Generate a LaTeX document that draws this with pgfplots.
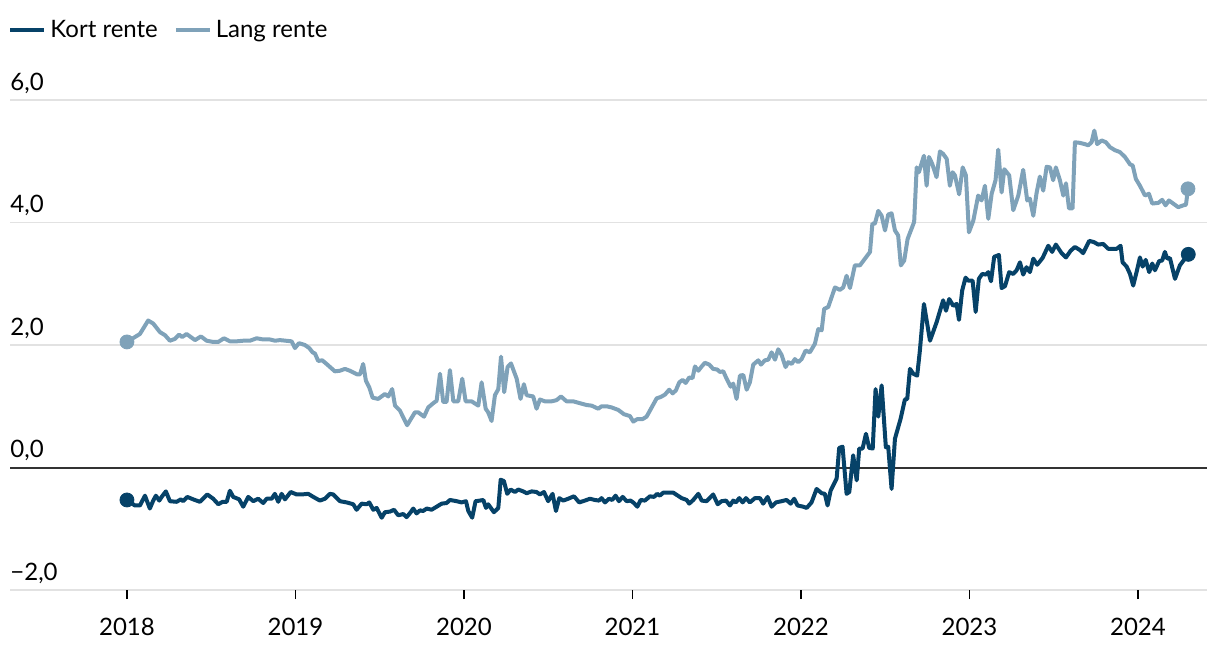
\documentclass[border=0pt]{standalone}
\usepackage{pgfplots}
\pgfplotsset{compat=1.18}
\usepackage{fontspec}
\setmainfont{Lato}
\definecolor{kort}{HTML}{064268}
\definecolor{lang}{HTML}{7FA2B9}
\definecolor{gridc}{HTML}{E2E2E2}
\begin{document}
\begin{tikzpicture}
\path[use as bounding box] (-5pt,-29pt) rectangle (605pt,295pt);
\begin{axis}[
  at={(0,0)}, anchor=south west,
  scale only axis, width=598.5pt, height=245pt,
  xmin=2017.306, xmax=2024.410, ymin=-2, ymax=6,
  axis line style={draw=none},
  xtick={2018,2019,2020,2021,2022,2023,2024},
  xticklabels={2018,2019,2020,2021,2022,2023,2024},
  ytick={-2,0,2,4,6},
  yticklabels={{−2,0},{0,0},{2,0},{4,0},{6,0}},
  tick align=outside, major tick length=4.5pt,
  xtick pos=bottom, ytick pos=left,
  xtick style={black, line width=0.6pt},
  ytick style={draw=none},
  ymajorgrids, grid style={gridc, line width=0.9pt},
  extra y ticks={0}, extra y tick labels={},
  extra y tick style={grid style={black!80, line width=1pt}, ytick style={draw=none}},
  yticklabel style={anchor=south west, inner sep=0pt, xshift=4.5pt, yshift=3pt},
  xticklabel style={yshift=-6pt},
  tick label style={font=\fontsize{12}{14}\selectfont},
  legend style={draw=none, fill=none, inner sep=0pt, at={(0,1)}, anchor=west, yshift=35pt, xshift=-1pt,
    nodes={inner xsep=2pt},
    font=\fontsize{12}{14}\selectfont, /tikz/every even column/.append style={column sep=6pt}},
  legend columns=-1, legend cell align=left,
  legend image code/.code={\draw[#1, line width=2pt] (0pt,0pt) -- (17pt,0pt);},
]
\addplot[kort, line width=2pt, line join=round] coordinates {
(2018.000,-0.53) (2018.047,-0.62) (2018.077,-0.62) (2018.107,-0.46) (2018.136,-0.67) (2018.156,-0.54)
(2018.172,-0.46) (2018.192,-0.54) (2018.206,-0.48) (2018.231,-0.39) (2018.255,-0.55) (2018.295,-0.56)
(2018.320,-0.52) (2018.334,-0.55) (2018.358,-0.48) (2018.393,-0.52) (2018.433,-0.56) (2018.477,-0.44)
(2018.512,-0.51) (2018.542,-0.60) (2018.568,-0.56) (2018.592,-0.56) (2018.611,-0.38) (2018.631,-0.48)
(2018.666,-0.52) (2018.690,-0.64) (2018.720,-0.48) (2018.750,-0.55) (2018.779,-0.51) (2018.809,-0.58)
(2018.829,-0.51) (2018.859,-0.51) (2018.878,-0.43) (2018.898,-0.56) (2018.918,-0.43) (2018.938,-0.52)
(2018.972,-0.40) (2019.007,-0.44) (2019.037,-0.44) (2019.076,-0.43) (2019.106,-0.48) (2019.145,-0.54)
(2019.175,-0.51) (2019.205,-0.43) (2019.224,-0.44) (2019.264,-0.55) (2019.304,-0.57) (2019.343,-0.60)
(2019.363,-0.69) (2019.393,-0.59) (2019.423,-0.60) (2019.438,-0.57) (2019.462,-0.69) (2019.482,-0.66)
(2019.512,-0.82) (2019.531,-0.73) (2019.561,-0.72) (2019.585,-0.69) (2019.610,-0.78) (2019.640,-0.76)
(2019.660,-0.81) (2019.684,-0.73) (2019.699,-0.67) (2019.719,-0.75) (2019.739,-0.70) (2019.758,-0.71)
(2019.779,-0.67) (2019.808,-0.69) (2019.838,-0.64) (2019.868,-0.59) (2019.897,-0.58) (2019.917,-0.53)
(2019.957,-0.55) (2019.986,-0.57) (2020.012,-0.55) (2020.026,-0.71) (2020.049,-0.82) (2020.069,-0.55)
(2020.095,-0.54) (2020.115,-0.53) (2020.131,-0.66) (2020.144,-0.60) (2020.178,-0.73) (2020.204,-0.66)
(2020.218,-0.20) (2020.237,-0.22) (2020.257,-0.43) (2020.277,-0.36) (2020.303,-0.40) (2020.322,-0.36)
(2020.352,-0.39) (2020.372,-0.42) (2020.402,-0.39) (2020.431,-0.40) (2020.451,-0.44) (2020.475,-0.40)
(2020.500,-0.55) (2020.526,-0.43) (2020.546,-0.71) (2020.566,-0.50) (2020.589,-0.54) (2020.619,-0.51)
(2020.653,-0.47) (2020.684,-0.57) (2020.718,-0.54) (2020.748,-0.51) (2020.777,-0.53) (2020.801,-0.54)
(2020.817,-0.50) (2020.837,-0.57) (2020.861,-0.51) (2020.880,-0.53) (2020.900,-0.46) (2020.920,-0.55)
(2020.942,-0.48) (2020.966,-0.55) (2020.989,-0.54) (2021.009,-0.58) (2021.029,-0.64) (2021.049,-0.53)
(2021.074,-0.54) (2021.104,-0.47) (2021.128,-0.48) (2021.147,-0.43) (2021.163,-0.46) (2021.183,-0.41)
(2021.242,-0.41) (2021.292,-0.50) (2021.322,-0.53) (2021.337,-0.59) (2021.361,-0.53) (2021.391,-0.43)
(2021.411,-0.54) (2021.440,-0.55) (2021.479,-0.44) (2021.506,-0.60) (2021.529,-0.55) (2021.555,-0.54)
(2021.579,-0.62) (2021.598,-0.54) (2021.614,-0.57) (2021.634,-0.50) (2021.654,-0.57) (2021.674,-0.50)
(2021.697,-0.57) (2021.727,-0.50) (2021.757,-0.50) (2021.776,-0.59) (2021.802,-0.48) (2021.826,-0.64)
(2021.852,-0.57) (2021.885,-0.55) (2021.915,-0.53) (2021.939,-0.59) (2021.960,-0.51) (2021.980,-0.62)
(2022.014,-0.64) (2022.034,-0.66) (2022.063,-0.57) (2022.093,-0.35) (2022.123,-0.42) (2022.142,-0.43)
(2022.158,-0.62) (2022.176,-0.38) (2022.212,-0.18) (2022.227,0.32) (2022.247,0.34) (2022.271,-0.43)
(2022.287,-0.40) (2022.310,0.20) (2022.331,-0.21) (2022.346,0.31) (2022.366,0.31) (2022.386,0.55)
(2022.405,0.32) (2022.426,0.31) (2022.443,1.28) (2022.459,0.83) (2022.479,1.34) (2022.504,0.33)
(2022.518,0.34) (2022.538,-0.35) (2022.558,0.47) (2022.592,0.80) (2022.617,1.11) (2022.631,1.12)
(2022.647,1.61) (2022.667,1.53) (2022.690,1.50) (2022.706,1.91) (2022.730,2.67) (2022.766,2.07)
(2022.805,2.37) (2022.844,2.73) (2022.861,2.56) (2022.880,2.75) (2022.904,2.64) (2022.924,2.67)
(2022.938,2.41) (2022.957,2.89) (2022.977,3.10) (2022.993,3.05) (2023.019,3.05) (2023.037,2.54)
(2023.056,3.08) (2023.076,3.16) (2023.098,3.15) (2023.112,3.19) (2023.128,3.04) (2023.147,3.44)
(2023.175,3.47) (2023.191,2.93) (2023.211,2.96) (2023.236,3.19) (2023.260,3.16) (2023.280,3.22)
(2023.300,3.35) (2023.319,3.15) (2023.339,3.27) (2023.359,3.19) (2023.379,3.41) (2023.402,3.31)
(2023.434,3.42) (2023.468,3.62) (2023.491,3.52) (2023.513,3.64) (2023.547,3.50) (2023.573,3.43)
(2023.601,3.54) (2023.626,3.60) (2023.656,3.55) (2023.675,3.50) (2023.711,3.70) (2023.739,3.68)
(2023.764,3.64) (2023.794,3.65) (2023.824,3.57) (2023.850,3.57) (2023.874,3.57) (2023.897,3.62)
(2023.909,3.35) (2023.933,3.28) (2023.953,3.16) (2023.972,2.97) (2023.992,3.19) (2024.012,3.43)
(2024.028,3.28) (2024.046,3.39) (2024.067,3.19) (2024.085,3.33) (2024.101,3.22) (2024.126,3.37)
(2024.144,3.38) (2024.160,3.52) (2024.174,3.41) (2024.190,3.42) (2024.220,3.08) (2024.249,3.30)
(2024.279,3.41) (2024.299,3.48)
};
\addlegendentry{Kort rente}
\addplot[lang, line width=2pt, line join=round] coordinates {
(2018.000,2.05) (2018.077,2.18) (2018.126,2.40) (2018.156,2.35) (2018.196,2.21) (2018.226,2.16)
(2018.255,2.07) (2018.285,2.10) (2018.309,2.17) (2018.328,2.13) (2018.354,2.18) (2018.404,2.08)
(2018.439,2.14) (2018.473,2.07) (2018.512,2.05) (2018.542,2.05) (2018.576,2.11) (2018.611,2.06)
(2018.651,2.06) (2018.690,2.07) (2018.730,2.07) (2018.770,2.11) (2018.809,2.09) (2018.849,2.09)
(2018.878,2.07) (2018.908,2.08) (2018.977,2.06) (2018.997,1.95) (2019.021,2.03) (2019.056,2.00)
(2019.082,1.95) (2019.102,1.88) (2019.116,1.86) (2019.135,1.74) (2019.159,1.75) (2019.185,1.69)
(2019.234,1.57) (2019.264,1.58) (2019.294,1.61) (2019.323,1.58) (2019.367,1.52) (2019.383,1.52)
(2019.402,1.69) (2019.418,1.42) (2019.438,1.31) (2019.458,1.14) (2019.491,1.12) (2019.531,1.20)
(2019.551,1.16) (2019.574,1.28) (2019.591,1.01) (2019.620,0.93) (2019.663,0.69) (2019.709,0.90)
(2019.729,0.90) (2019.763,0.83) (2019.788,0.98) (2019.818,1.05) (2019.838,1.09) (2019.858,1.53)
(2019.877,1.07) (2019.897,1.07) (2019.917,1.59) (2019.937,1.08) (2019.966,1.08) (2019.990,1.45)
(2020.010,1.08) (2020.046,1.08) (2020.085,1.01) (2020.105,1.39) (2020.129,0.96) (2020.144,0.90)
(2020.164,0.76) (2020.184,1.18) (2020.204,1.28) (2020.220,1.81) (2020.239,1.23) (2020.259,1.64)
(2020.279,1.70) (2020.313,1.45) (2020.336,1.12) (2020.356,1.36) (2020.372,1.18) (2020.411,1.16)
(2020.431,0.96) (2020.451,1.11) (2020.481,1.08) (2020.520,1.08) (2020.550,1.10) (2020.576,1.16)
(2020.609,1.08) (2020.649,1.08) (2020.688,1.05) (2020.728,1.02) (2020.758,1.01) (2020.797,0.96)
(2020.817,1.00) (2020.847,1.00) (2020.877,0.98) (2020.916,0.94) (2020.950,0.87) (2020.985,0.84)
(2021.005,0.75) (2021.029,0.79) (2021.060,0.79) (2021.084,0.83) (2021.114,0.98) (2021.144,1.13)
(2021.167,1.15) (2021.193,1.19) (2021.218,1.27) (2021.239,1.21) (2021.258,1.26) (2021.278,1.39)
(2021.298,1.43) (2021.316,1.38) (2021.337,1.47) (2021.357,1.46) (2021.371,1.65) (2021.391,1.58)
(2021.411,1.65) (2021.430,1.71) (2021.456,1.68) (2021.479,1.61) (2021.503,1.60) (2021.519,1.56)
(2021.539,1.57) (2021.559,1.45) (2021.583,1.32) (2021.598,1.37) (2021.618,1.12) (2021.638,1.50)
(2021.658,1.51) (2021.678,1.27) (2021.697,1.39) (2021.717,1.68) (2021.747,1.75) (2021.763,1.68)
(2021.786,1.75) (2021.806,1.76) (2021.826,1.88) (2021.846,1.76) (2021.865,1.93) (2021.885,1.84)
(2021.909,1.64) (2021.925,1.72) (2021.945,1.69) (2021.964,1.77) (2021.984,1.72) (2022.004,1.77)
(2022.028,1.91) (2022.053,1.88) (2022.083,2.02) (2022.103,2.26) (2022.123,2.24) (2022.138,2.59)
(2022.162,2.62) (2022.202,2.94) (2022.231,2.90) (2022.251,2.94) (2022.271,3.13) (2022.291,2.93)
(2022.320,3.30) (2022.350,3.30) (2022.410,3.52) (2022.424,3.98) (2022.439,3.98) (2022.459,4.19)
(2022.479,4.11) (2022.499,3.87) (2022.518,4.13) (2022.538,4.15) (2022.558,3.87) (2022.577,3.79)
(2022.593,3.30) (2022.613,3.38) (2022.633,3.73) (2022.672,4.01) (2022.687,4.90) (2022.700,4.82)
(2022.712,4.93) (2022.730,5.09) (2022.746,4.60) (2022.760,5.07) (2022.779,4.96) (2022.805,4.74)
(2022.825,5.16) (2022.844,5.12) (2022.865,5.04) (2022.884,4.60) (2022.900,4.82) (2022.914,4.77)
(2022.939,4.46) (2022.960,4.90) (2022.979,4.77) (2022.997,3.84) (2023.023,4.03) (2023.052,4.44)
(2023.072,4.36) (2023.092,4.60) (2023.112,4.06) (2023.132,4.47) (2023.155,4.69) (2023.171,5.19)
(2023.191,4.49) (2023.207,4.87) (2023.236,4.77) (2023.260,4.20) (2023.290,4.44) (2023.319,4.86)
(2023.343,4.36) (2023.359,4.39) (2023.379,4.11) (2023.399,4.49) (2023.418,4.75) (2023.438,4.52)
(2023.458,4.91) (2023.478,4.90) (2023.497,4.69) (2023.513,4.90) (2023.537,4.69) (2023.557,4.44)
(2023.573,4.64) (2023.591,4.23) (2023.612,4.23) (2023.626,5.31) (2023.656,5.30) (2023.685,5.28)
(2023.705,5.26) (2023.725,5.31) (2023.741,5.50) (2023.758,5.28) (2023.785,5.34) (2023.810,5.31)
(2023.834,5.23) (2023.864,5.18) (2023.893,5.15) (2023.923,5.07) (2023.953,4.95) (2023.969,4.93)
(2023.988,4.71) (2024.012,4.60) (2024.042,4.44) (2024.065,4.47) (2024.085,4.31) (2024.121,4.32)
(2024.144,4.37) (2024.164,4.28) (2024.184,4.36) (2024.209,4.31) (2024.239,4.25) (2024.269,4.28)
(2024.285,4.29) (2024.297,4.55)
};
\addlegendentry{Lang rente}
\addplot[only marks, mark=*, mark size=3.5pt, kort, forget plot] coordinates {(2018.000,-0.53) (2024.299,3.48)};
\addplot[only marks, mark=*, mark size=3.5pt, lang, forget plot] coordinates {(2018.000,2.05) (2024.297,4.55)};
\end{axis}
\end{tikzpicture}
\end{document}
